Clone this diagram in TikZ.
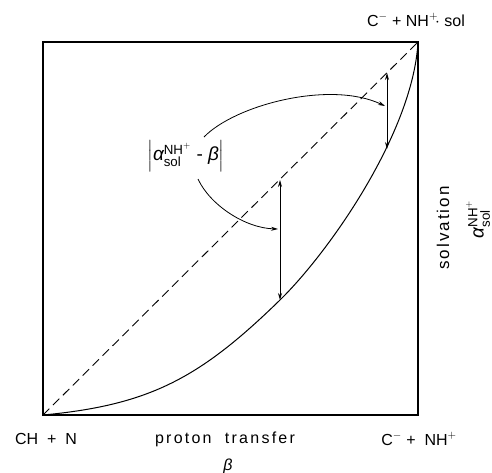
\documentclass[tikz,border=0pt]{standalone}
\usepackage{amsmath}
\usepackage{fontspec}
\setmainfont{Liberation Sans}
\usetikzlibrary{arrows.meta}
\begin{document}
\begin{tikzpicture}[x=1pt,y=-1pt,
  lbl/.style={font=\fontsize{16}{19}\selectfont, inner sep=0pt},
  biglbl/.style={font=\fontsize{19}{22}\selectfont, inner sep=0pt},
  frame/.style={line width=1.3pt},
  curveline/.style={line width=1pt},
  diag/.style={line width=0.9pt, dash pattern=on 9pt off 5pt},
  dbl/.style={line width=0.8pt, {Stealth[length=7pt,width=4pt]}-{Stealth[length=7pt,width=4pt]}},
  ptr/.style={line width=0.8pt, -{Stealth[length=7pt,width=4pt]}}]
\useasboundingbox (0,0) rectangle (492,472);
\coordinate (O) at (43,415);
\coordinate (M) at (280,300);
\coordinate (T) at (418,42);
\draw[frame] (O) rectangle (T);
\draw[diag] (O) -- (T);
\draw[curveline] (O) .. controls (150,405) and (200,378) .. (M)
                     .. controls (330,251) and (413,132) .. (T);
% vertical double arrows
\coordinate (a1) at (280,180);
\coordinate (a2) at (387,73);
\coordinate (b2) at (387,149);
\draw[dbl] (a1) -- (M);
\draw[dbl] (a2) -- (b2);
% label
\node[biglbl] (lab) at (186,156) {$\left|\text{\itshape α}^{\text{NH}^{+}}_{\text{sol}}\text{ - }\text{\itshape β}\right|$};
\coordinate (s1) at (204,137);
\coordinate (e1) at (385,106);
\coordinate (s2) at (198,179);
\coordinate (e2) at (278,229);
\draw[ptr] (s1) .. controls (235,105) and (330,80) .. (e1);
\draw[ptr] (s2) .. controls (210,205) and (245,228) .. (e2);
% texts
\node[lbl] (tr) at (416,20) {C$^{-}$ + NH$^{+}\!\cdot$ sol};
\node[lbl] (bl) at (46,439) {CH\ \ +\ \ N};
\node[lbl] (bm) at (225,439) {\addfontfeatures{LetterSpace=14}proton\ \ transfer};
\node[lbl] (br) at (419,439) {C$^{-}$ +\ \ NH$^{+}$};
\node[lbl] (beta) at (228,466) {\itshape β};
\node[lbl, font=\fontsize{17}{20}\selectfont, rotate=90] (solv) at (443,228) {\addfontfeatures{LetterSpace=12}solvation};
\node[biglbl, rotate=90] (alp) at (478,219) {$\text{\itshape α}^{\text{NH}^{+}}_{\text{sol}}$};
\end{tikzpicture}
\end{document}
